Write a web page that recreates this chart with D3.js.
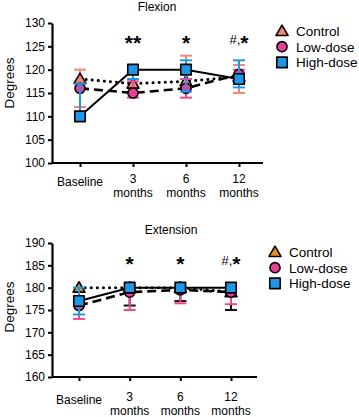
<!DOCTYPE html>
<html><head><meta charset="utf-8">
<script src="https://cdn.jsdelivr.net/npm/d3@7"></script>
<style>
body{margin:0;background:#fff;}
svg{display:block;font-family:"Liberation Sans",Arial,sans-serif;}
</style></head>
<body><svg id="c" width="359" height="417"></svg>
<script>
const categories = ["Baseline", "3 months", "6 months", "12 months"];
const tickLines = [["Baseline"], ["3", "months"], ["6", "months"], ["12", "months"]];
const seriesNames = ["Control", "Low-dose", "High-dose"];

const flexTicks = [100, 105, 110, 115, 120, 125, 130];
const flexControl = [118, 117, 117.5, 118.5];
const flexControlLo = [112, 117, 116, 115];
const flexControlHi = [120, 117, 123, 121];
const flexLow = [116, 115, 116, 119];
const flexLowLo = [116, 114, 114, 117];
const flexLowHi = [116, 117.5, 118, 120];
const flexHigh = [110, 120, 120, 118];
const flexHighLo = [110, 118, 115.3, 116.2];
const flexHighHi = [117, 120, 122, 122];
const flexSig = ["**", "*", "*", "#,*"];

const extTicks = [160, 165, 170, 175, 180, 185, 190];
const extControl = [180, 180, 180, 179];
const extControlLo = [180, 176, 177, 175];
const extControlHi = [180, 180, 180, 179];
const extLow = [176, 179, 179.5, 179];
const extLowLo = [173, 175, 176.5, 176.3];
const extLowHi = [176, 179, 179.5, 179];
const extHigh = [177, 180, 180, 180];
const extHighLo = [174, 180, 180, 180];
const extHighHi = [180, 180, 180, 180];
const extSig = ["*", "*", "#,*"];

const svg = d3.select("#c");

function panel(cfg) {
  const g = svg.append("g");
  const x = d3.scalePoint().domain(categories).range(cfg.xr);
  const y = d3.scaleLinear().domain([cfg.ticks[0], cfg.ticks[cfg.ticks.length - 1]]).range(cfg.yr);

  // axes
  const ya = g.append("g").attr("transform", `translate(${cfg.x0},0)`)
    .call(d3.axisLeft(y).tickValues(cfg.ticks).tickSize(4).tickSizeOuter(0).tickPadding(3));
  const xa = g.append("g").attr("transform", `translate(0,${cfg.yr[0]})`)
    .call(d3.axisBottom(x).tickSize(4).tickSizeOuter(0).tickFormat(""));
  [ya, xa].forEach(a => {
    a.select(".domain").attr("stroke", "#000").attr("stroke-width", 2.2);
    a.selectAll(".tick line").attr("stroke", "#000").attr("stroke-width", 2);
  });
  ya.selectAll("text").attr("font-size", 12).attr("fill", "#000").attr("font-family", "Liberation Sans, Arial, sans-serif");
  xa.select(".domain").attr("d", `M${cfg.x0},0H${cfg.xEnd}`);

  // x tick labels
  categories.forEach((c, i) => {
    const lines = tickLines[i];
    const t = g.append("text").attr("text-anchor", "middle").attr("font-size", 12).attr("fill", "#000");
    if (lines.length === 1) {
      t.attr("x", x(c)).attr("y", cfg.baseY).text(lines[0]);
    } else {
      t.append("tspan").attr("x", x(c)).attr("y", cfg.numY).text(lines[0]);
      t.append("tspan").attr("x", x(c)).attr("y", cfg.numY + 14).text(lines[1]);
    }
  });

  // title
  g.append("text").attr("x", cfg.titleX).attr("y", cfg.titleY).attr("text-anchor", "middle")
    .attr("font-size", 12).text(cfg.title);
  // y label
  g.append("text").attr("transform", `translate(${cfg.ylabX},${cfg.ylabY}) rotate(-90)`)
    .attr("text-anchor", "middle").attr("font-size", 13.5).text("Degrees");

  // series
  const sym = {
    tri: d3.symbol().type(d3.symbolTriangle).size(62),
    circ: d3.symbol().type(d3.symbolCircle).size(80),
    sq: d3.symbol().type(d3.symbolSquare).size(110)
  };
  cfg.series.forEach(s => {
    const line = d3.line().x((d, i) => x(categories[i])).y(d => y(d));
    g.append("path").datum(s.vals).attr("d", line).attr("fill", "none")
      .attr("stroke", "#000").attr("stroke-width", s.lw)
      .attr("stroke-dasharray", s.dash).attr("stroke-linecap", s.cap);
    // error bars
    const eb = g.append("g").attr("stroke", s.ecol).attr("stroke-width", 2);
    s.vals.forEach((v, i) => {
      const cx = x(categories[i]);
      const lo = s.lo[i], hi = s.hi[i];
      if (hi > lo) eb.append("line").attr("x1", cx).attr("x2", cx).attr("y1", y(lo)).attr("y2", y(hi));
      if (lo < v) eb.append("line").attr("x1", cx - 6).attr("x2", cx + 6).attr("y1", y(lo)).attr("y2", y(lo));
      if (hi > v) eb.append("line").attr("x1", cx - 6).attr("x2", cx + 6).attr("y1", y(hi)).attr("y2", y(hi));
    });
    s.vals.forEach((v, i) => {
      g.append("path").attr("d", sym[s.shape]())
        .attr("transform", `translate(${x(categories[i])},${y(v) + (s.shape === "tri" ? 1 : 0)})`)
        .attr("fill", s.fill).attr("stroke", "#000").attr("stroke-width", 1.6)
        .attr("stroke-linejoin", "round");
    });
  });

  // significance marks
  cfg.sig.forEach(sg => {
    const t = g.append("text").attr("x", x(categories[sg.i])).attr("y", cfg.sigY)
      .attr("text-anchor", "middle").attr("fill", "#000");
    if (sg.txt.startsWith("#")) {
      t.append("tspan").attr("font-size", 13).attr("dy", 0).text("#,");
      t.append("tspan").attr("font-size", 21).attr("font-weight", "bold").attr("dy", 6).text("*");
    } else {
      t.attr("font-size", 21).attr("font-weight", "bold").attr("dy", 6).text(sg.txt);
    }
  });

  // legend
  cfg.series.forEach((s, k) => {
    const ly = cfg.legY + k * 15.7;
    g.append("path").attr("d", sym[s.shape]())
      .attr("transform", `translate(${cfg.legX},${ly + (s.shape === "tri" ? 1 : 0)})`)
      .attr("fill", s.fill).attr("stroke", "#000").attr("stroke-width", 1.6).attr("stroke-linejoin", "round");
    g.append("text").attr("x", cfg.legX + 14).attr("y", ly + 5).attr("font-size", 13.5).text(seriesNames[k]);
  });
}

const pink = "#ea3f96", pinkErr = "#f04a8e", blue = "#1e98e6";

panel({
  title: "Flexion", titleX: 157, titleY: 11,
  ticks: flexTicks, xr: [80, 239], yr: [163, 23], x0: 52, xEnd: 263,
  baseY: 186, numY: 183, ylabX: 14, ylabY: 83,
  sigY: 44,
  sig: [{i: 1, txt: flexSig[0]}, {i: 2, txt: flexSig[1]}, {i: 3, txt: flexSig[3]}],
  legX: 282, legY: 31,
  series: [
    {vals: flexControl, lo: flexControlLo, hi: flexControlHi, fill: "#f3877b", ecol: "#f3877b", shape: "tri", dash: "0.1,6", cap: "round", lw: 3},
    {vals: flexLow, lo: flexLowLo, hi: flexLowHi, fill: pink, ecol: pinkErr, shape: "circ", dash: "9,5", cap: "butt", lw: 2.6},
    {vals: flexHigh, lo: flexHighLo, hi: flexHighHi, fill: blue, ecol: blue, shape: "sq", dash: null, cap: "butt", lw: 2}
  ]
});

panel({
  title: "Extension", titleX: 171, titleY: 234,
  ticks: extTicks, xr: [79, 231], yr: [377, 243], x0: 52, xEnd: 257,
  baseY: 404, numY: 401, ylabX: 14, ylabY: 307,
  sigY: 265,
  sig: [{i: 1, txt: extSig[0]}, {i: 2, txt: extSig[1]}, {i: 3, txt: extSig[2]}],
  legX: 275, legY: 252,
  series: [
    {vals: extControl, lo: extControlLo, hi: extControlHi, fill: "#e8921c", ecol: "#111", shape: "tri", dash: "0.1,6", cap: "round", lw: 3},
    {vals: extLow, lo: extLowLo, hi: extLowHi, fill: pink, ecol: pinkErr, shape: "circ", dash: "9,5", cap: "butt", lw: 2.6},
    {vals: extHigh, lo: extHighLo, hi: extHighHi, fill: blue, ecol: blue, shape: "sq", dash: null, cap: "butt", lw: 2}
  ]
});
</script></body></html>
